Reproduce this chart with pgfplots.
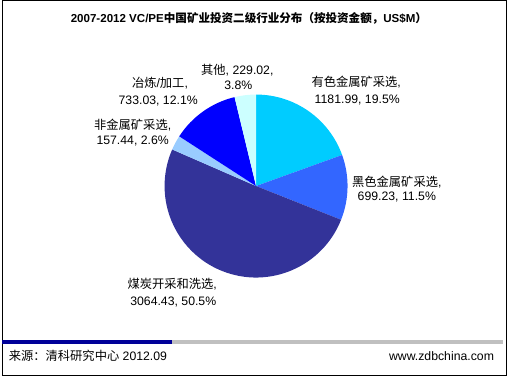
\documentclass[border=0pt]{standalone}
\usepackage{pgfplots}
\pgfplotsset{compat=1.18}
\usepackage{pgfplotstable}
\usepackage{fontspec}
\setmainfont{Liberation Sans}
\newfontfamily\cjk{Noto Sans CJK SC}

\definecolor{pc0}{RGB}{0,204,255}
\definecolor{pc1}{RGB}{51,102,255}
\definecolor{pc2}{RGB}{51,51,153}
\definecolor{pc3}{RGB}{153,204,255}
\definecolor{pc4}{RGB}{0,0,255}
\definecolor{pc5}{RGB}{204,255,255}
\definecolor{barblue}{RGB}{0,0,153}
\definecolor{bargray}{RGB}{192,192,192}

% values (US$M), clockwise from 12 o'clock
\pgfplotstableread{
value
1181.99
699.23
3064.43
157.44
733.03
229.02
}\piedata

\xdef\total{0}
\foreach \i in {0,...,5}{%
  \pgfplotstablegetelem{\i}{value}\of\piedata
  \pgfmathsetmacro\t{\total+\pgfplotsretval}%
  \xdef\total{\t}}
\xdef\cum{0}
\foreach \i in {0,...,5}{%
  \pgfplotstablegetelem{\i}{value}\of\piedata
  \pgfmathsetmacro\a{90-360*(\cum/\total)}%
  \pgfmathsetmacro\c{\cum+\pgfplotsretval}%
  \pgfmathsetmacro\b{90-360*(\c/\total)}%
  \expandafter\xdef\csname as\i\endcsname{\a}%
  \expandafter\xdef\csname ae\i\endcsname{\b}%
  \xdef\cum{\c}}

\tikzset{lbl/.style={anchor=base, inner sep=0pt, font=\fontsize{12bp}{14bp}\selectfont}}

\begin{document}
\begin{tikzpicture}
\begin{axis}[hide axis, scale only axis, width=507bp, height=378bp,
  xmin=0, xmax=507, ymin=0, ymax=378, clip=false]
% pie
\pgfplotsinvokeforeach{0,...,5}{%
  \fill[pc#1] (axis cs:254,192) -- ([shift={(\csname as#1\endcsname:89.5bp)}]axis cs:254,192)
    arc[start angle=\csname as#1\endcsname, end angle=\csname ae#1\endcsname, radius=89.5bp] -- cycle;
}
% frame
\draw[line width=1bp] (axis cs:5.5,373.5) rectangle (axis cs:499,7);
\draw[line width=4bp, bargray] (axis cs:172,39) -- (axis cs:496,39);
\draw[line width=4bp, barblue] (axis cs:5.5,39) -- (axis cs:172,39);
% title
\node[lbl, font=\fontsize{11.3bp}{14bp}\selectfont\bfseries] at (axis cs:247,351.6)
  {2007-2012 VC/PE{\cjk 中国矿业投资二级行业分布（按投资金额，}US\$M{\cjk ）}};
% labels
\node[lbl] at (axis cs:352,289.6) {{\cjk 有色金属矿采选},};
\node[lbl] at (axis cs:353,272.9) {1181.99, 19.5\%};
\node[lbl] at (axis cs:391.7,191.9) {{\cjk 黑色金属矿采选},};
\node[lbl] at (axis cs:391.7,177.6) {699.23, 11.5\%};
\node[lbl] at (axis cs:172,91.6) {{\cjk 煤炭开采和洗选},};
\node[lbl] at (axis cs:173,75.6) {3064.43, 50.5\%};
\node[lbl] at (axis cs:133.3,246.9) {{\cjk 非金属矿采选},};
\node[lbl] at (axis cs:133.3,232.9) {157.44, 2.6\%};
\node[lbl] at (axis cs:160,288.6) {{\cjk 冶炼}/{\cjk 加工},};
\node[lbl] at (axis cs:158.3,271.9) {733.03, 12.1\%};
\node[lbl] at (axis cs:235.7,300.9) {{\cjk 其他}, 229.02,};
\node[lbl] at (axis cs:236.7,286.9) {3.8\%};
% footer
\node[lbl, anchor=base west] at (axis cs:12,21.6) {{\cjk 来源：清科研究中心} 2012.09};
\node[lbl, anchor=base east] at (axis cs:487,21.6) {www.zdbchina.com};
\end{axis}
\end{tikzpicture}
\end{document}
